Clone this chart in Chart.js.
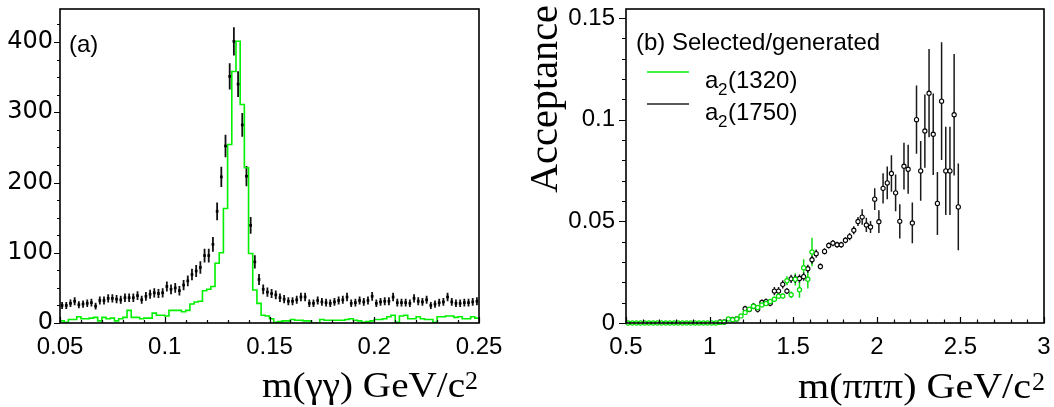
<!DOCTYPE html>
<html>
<head>
<meta charset="utf-8">
<script src="https://cdn.jsdelivr.net/npm/chart.js@4.4.1/dist/chart.umd.min.js"></script>
<style>
  html, body { margin: 0; padding: 0; background: #fff; }
  #wrap { position: relative; width: 1054px; height: 407px; overflow: hidden; }
  #ggChart { position: absolute; left: 0; top: 0; }
  #pi3Chart { position: absolute; left: 520px; top: 0; }
</style>
</head>
<body>
<div id="wrap">
  <canvas id="ggChart" width="520" height="407"></canvas>
  <canvas id="pi3Chart" width="534" height="407"></canvas>
</div>
<script>
// ---------- (a) two-photon invariant mass ----------
const GG_LO = 0.05, GG_HI = 0.25, GG_NBINS = 100;
// events per bin, data
const ggData = [
  25, 25, 28, 31, 26, 27, 28, 29, 24, 32,
  32, 35, 35, 34, 33, 36, 36, 36, 39, 33,
  38, 41, 43, 42, 43, 52, 48, 50, 46, 54,
  60, 69, 74, 79, 96, 96, 112, 159, 208, 252,
  351, 401, 340, 282, 209, 139, 87, 62, 48, 44,
  42, 40, 36, 34, 31, 31, 33, 37, 37, 28,
  28, 32, 30, 29, 28, 30, 32, 33, 37, 28,
  29, 32, 30, 32, 38, 28, 30, 31, 31, 37,
  29, 29, 29, 28, 35, 31, 30, 33, 25, 27,
  29, 30, 37, 30, 28, 28, 29, 29, 30, 31
];
// events per bin, simulation
const ggMC = [
  3, 1, 5, 5, 9, 6, 6, 7, 8, 3,
  8, 6, 7, 3, 6, 8, 18, 8, 8, 6,
  7, 7, 14, 11, 11, 10, 18, 18, 18, 16,
  18, 27, 30, 31, 46, 48, 52, 85, 100, 163,
  254, 358, 401, 311, 221, 99, 47, 28, 11, 10,
  6, 1, 2, 3, 3, 5, 4, 4, 3, 3,
  0, 0, 5, 4, 4, 4, 4, 4, 5, 6,
  4, 3, 1, 2, 3, 5, 5, 6, 9, 11,
  1, 10, 11, 6, 6, 9, 6, 5, 5, 1,
  9, 9, 10, 10, 8, 9, 6, 6, 9, 7
];
const ggXTicks = [0.05, 0.1, 0.15, 0.2, 0.25];
const ggYTicks = [0, 100, 200, 300, 400];

// ---------- (b) three-pion acceptance ----------
const PI3_LO = 0.5, PI3_BIN = 0.025;
const a2_1320_firstBin = 0;
const a2_1320_acc = [
  0, 0, 0, 0, 0, 0, 0, 0, 0, 0, 0, 0, 0, 0, 0, 0, 0, 0, 0, 0, 0, 0,
  0.0003, 0.0004, 0.002, 0.0016, 0.002, 0.0035, 0.0052, 0.0068, 0.0082, 0.0076,
  0.0089, 0.0096, 0.0106, 0.0117, 0.0132, 0.0133, 0.0208, 0.0139, 0.0215, 0.0164,
  0.0272, 0.0215, 0.0349
];
const a2_1320_err = [
  0, 0, 0, 0, 0, 0, 0, 0, 0, 0, 0, 0, 0, 0, 0, 0, 0, 0, 0, 0, 0, 0,
  0.0003, 0.0003, 0.0006, 0.0006, 0.0006, 0.0008, 0.0009, 0.001, 0.001, 0.001,
  0.0011, 0.0011, 0.0012, 0.0012, 0.0013, 0.0013, 0.0022, 0.0016, 0.003, 0.004,
  0.0042, 0.0045, 0.007
];
const a2_1750_firstBin = 22;
const a2_1750_acc = [
  0.0005, 0.0005, null, 0.0018, 0.002, null, 0.007, 0.0066, 0.0083, 0.0067,
  0.0101, 0.0105, 0.0097, 0.0157, 0.0157, 0.019, 0.0157, 0.0217, 0.0217, 0.0219,
  0.0228, 0.0267, 0.0311, 0.0341, 0.0278, 0.0352, 0.0381, 0.0393, 0.0385, 0.0385,
  0.0407, 0.0425, 0.0456, 0.0499, 0.0521, 0.0482, 0.0472, 0.0609, 0.0498, 0.0662,
  0.0689, 0.0735, 0.064, 0.05, 0.0771, 0.0756, 0.0492, 0.1, 0.0748, 0.0944,
  0.113, 0.0928, 0.0588, 0.1091, 0.0748, 0.0748, 0.1024, 0.0571
];
const a2_1750_err = [
  0.0004, 0.0004, null, 0.0008, 0.0008, null, 0.0015, 0.0012, 0.0015, 0.0015,
  0.0015, 0.0015, 0.0015, 0.002, 0.002, 0.002, 0.0015, 0.002, 0.002, 0.002,
  0.002, 0.002, 0.002, 0.002, 0.0015, 0.0015, 0.0015, 0.0015, 0.0015, 0.0015,
  0.0015, 0.0018, 0.002, 0.0022, 0.0038, 0.0035, 0.003, 0.0053, 0.0056, 0.0074,
  0.008, 0.009, 0.009, 0.0084, 0.0115, 0.0121, 0.01, 0.0168, 0.0147, 0.018,
  0.0217, 0.02, 0.0155, 0.029, 0.0217, 0.0217, 0.0299, 0.0213
];
const pi3XTicks = [0.5, 1, 1.5, 2, 2.5, 3];
const pi3YTicks = [0, 0.05, 0.1, 0.15];

// ---------- helpers ----------
const fmt = v => String(Math.round(v * 1e6) / 1e6);
function steps(lo, hi, step) {
  const out = [];
  const n = Math.round((hi - lo) / step);
  for (let i = 0; i <= n; i++) out.push(lo + i * step);
  return out;
}
const SANS = "'Liberation Sans', Arial, sans-serif";
const WIDE_SANS = "'DejaVu Sans', sans-serif";
const SERIF = "'Liberation Serif', 'Times New Roman', serif";

// vertical error bars, drawn under the markers
const errorBars = {
  id: 'errorBars',
  beforeDatasetsDraw(chart) {
    const { ctx, chartArea: a, scales: { x, y } } = chart;
    ctx.save();
    ctx.beginPath();
    ctx.rect(a.left, a.top - 2, a.right - a.left, a.bottom - a.top + 4);
    ctx.clip();
    chart.data.datasets.forEach(ds => {
      if (!ds.errors) return;
      ctx.strokeStyle = ds.errorColor;
      ctx.lineWidth = ds.errorWidth;
      ctx.beginPath();
      ds.data.forEach((p, i) => {
        const e = ds.errors[i];
        if (p.y == null || !e) return;
        const px = x.getPixelForValue(p.x);
        ctx.moveTo(px, y.getPixelForValue(p.y - e));
        ctx.lineTo(px, y.getPixelForValue(p.y + e));
      });
      ctx.stroke();
    });
    ctx.restore();
  }
};

// frame, tick marks and free text
const frameTicks = {
  id: 'frameTicks',
  afterDraw(chart, args, o) {
    const { ctx, chartArea: a, scales: { x, y } } = chart;
    ctx.save();
    ctx.strokeStyle = '#000';
    ctx.lineWidth = 1.2;
    ctx.beginPath();
    o.xMinor.forEach(v => { const p = Math.round(x.getPixelForValue(v)) + 0.5; ctx.moveTo(p, a.bottom); ctx.lineTo(p, a.bottom - o.xMinorLen); });
    o.xMajor.forEach(v => { const p = Math.round(x.getPixelForValue(v)) + 0.5; ctx.moveTo(p, a.bottom); ctx.lineTo(p, a.bottom - o.xMajorLen); });
    o.yMinor.forEach(v => { const p = Math.round(y.getPixelForValue(v)) + 0.5; ctx.moveTo(a.left, p); ctx.lineTo(a.left - o.yMinorLen, p); });
    o.yMajor.forEach(v => { const p = Math.round(y.getPixelForValue(v)) + 0.5; ctx.moveTo(a.left, p); ctx.lineTo(a.left - o.yMajorLen, p); });
    ctx.stroke();
    ctx.lineWidth = 1.6;
    ctx.strokeRect(a.left, a.top, a.right - a.left, a.bottom - a.top);
    ctx.restore();
    if (o.draw) o.draw(ctx, chart);
  }
};

// text stretched horizontally to span a given width
function stretchedText(ctx, text, font, x, yBase, width) {
  ctx.save();
  ctx.font = font;
  const w = ctx.measureText(text).width;
  ctx.translate(x, yBase);
  ctx.scale(width / w, 1);
  ctx.textBaseline = 'alphabetic';
  ctx.textAlign = 'left';
  ctx.fillStyle = '#000';
  ctx.fillText(text, 0, 0);
  ctx.restore();
}

function axisOptions(xTicks, yTicks, xMin, xMax, yMin, yMax, yAxisWidth, yPad, yFont) {
  return {
    x: {
      type: 'linear', min: xMin, max: xMax,
      grid: { display: false, drawTicks: false }, border: { display: false },
      afterBuildTicks: s => { s.ticks = xTicks.map(v => ({ value: v })); },
      afterFit: s => { s.height = 84; s.paddingLeft = 0; s.paddingRight = 0; },
      ticks: { autoSkip: false, maxRotation: 0, padding: 10, color: '#000',
               font: { family: SANS, size: 24 }, callback: v => fmt(v) }
    },
    y: {
      type: 'linear', min: yMin, max: yMax,
      grid: { display: false, drawTicks: false }, border: { display: false },
      afterBuildTicks: s => { s.ticks = yTicks.map(v => ({ value: v })); },
      afterFit: s => { s.width = yAxisWidth; s.paddingTop = 0; s.paddingBottom = 0; },
      ticks: { autoSkip: false, padding: yPad, color: '#000',
               font: { family: yFont, size: 24 }, callback: v => fmt(v) }
    }
  };
}

// ---------- chart (a) ----------
const ggW = (GG_HI - GG_LO) / GG_NBINS;
const ggPoints = ggData.map((v, i) => ({ x: GG_LO + (i + 0.5) * ggW, y: v }));
const ggHist = ggMC.map((v, i) => ({ x: GG_LO + i * ggW, y: v }));
ggHist.push({ x: GG_HI, y: ggMC[ggMC.length - 1] });

new Chart(document.getElementById('ggChart'), {
  type: 'scatter',
  data: {
    datasets: [
      {
        label: 'data', data: ggPoints,
        errors: ggData.map(v => Math.sqrt(v)), errorColor: '#111', errorWidth: 1.8,
        pointStyle: 'rect', pointRadius: 1.9, pointBackgroundColor: '#000',
        pointBorderColor: '#000', pointBorderWidth: 0, showLine: false
      },
      {
        type: 'line', label: 'MC', data: ggHist, stepped: true,
        borderColor: '#00f000', borderWidth: 1.6, pointRadius: 0, fill: false
      }
    ]
  },
  options: {
    responsive: false, animation: false, devicePixelRatio: 1,
    layout: { padding: { top: 9, right: 41, left: 0, bottom: 0 } },
    plugins: {
      legend: { display: false }, tooltip: { enabled: false },
      frameTicks: {
        xMajor: steps(0.05, 0.25, 0.05), xMinor: steps(0.05, 0.25, 0.01), xMajorLen: 6, xMinorLen: 3,
        yMajor: steps(0, 400, 100), yMinor: steps(0, 425, 25), yMajorLen: 6, yMinorLen: 3,
        draw(ctx) {
          ctx.save();
          ctx.fillStyle = '#000';
          ctx.font = `24px ${SANS}`;
          ctx.fillText('(a)', 69, 52);
          ctx.restore();
          stretchedText(ctx, 'm(\u03b3\u03b3) GeV/c', `35px ${SERIF}`, 262, 397, 203);
          stretchedText(ctx, '2', `25px ${SERIF}`, 465, 389, 13);
        }
      }
    },
    scales: axisOptions(ggXTicks, ggYTicks, GG_LO, GG_HI, 0, 447, 60, 7, WIDE_SANS)
  },
  plugins: [errorBars, frameTicks]
});

// ---------- chart (b) ----------
const binCenter = k => PI3_LO + (k + 0.5) * PI3_BIN;
const a2_1320_pts = a2_1320_acc.map((v, i) => ({ x: binCenter(a2_1320_firstBin + i), y: v }));
const a2_1750_pts = a2_1750_acc.map((v, i) => ({ x: binCenter(a2_1750_firstBin + i), y: v }));

new Chart(document.getElementById('pi3Chart'), {
  type: 'scatter',
  data: {
    datasets: [
      {
        label: 'a2(1320)', data: a2_1320_pts,
        errors: a2_1320_err, errorColor: '#10e010', errorWidth: 1.5,
        pointStyle: 'circle', pointRadius: 2.1, pointBorderWidth: 1.2,
        pointBorderColor: '#00e000', pointBackgroundColor: '#fff', clip: 4
      },
      {
        label: 'a2(1750)', data: a2_1750_pts,
        errors: a2_1750_err, errorColor: '#1a1a1a', errorWidth: 1.5,
        pointStyle: 'circle', pointRadius: 2.1, pointBorderWidth: 1.1,
        pointBorderColor: '#000', pointBackgroundColor: '#fff', clip: 4
      }
    ]
  },
  options: {
    responsive: false, animation: false, devicePixelRatio: 1,
    layout: { padding: { top: 9, right: 10, left: 0, bottom: 0 } },
    plugins: {
      legend: { display: false }, tooltip: { enabled: false },
      frameTicks: {
        xMajor: steps(0.5, 3, 0.5), xMinor: steps(0.5, 3, 0.1), xMajorLen: 6, xMinorLen: 3.5,
        yMajor: steps(0, 0.15, 0.05), yMinor: steps(0, 0.15, 0.01), yMajorLen: 7, yMinorLen: 4,
        draw(ctx) {
          ctx.save();
          ctx.fillStyle = '#000';
          ctx.font = `24px ${SANS}`;
          ctx.fillText('(b) Selected/generated', 116, 50);
          // legend entries
          ctx.lineWidth = 1.5;
          ctx.strokeStyle = '#00f000';
          ctx.beginPath(); ctx.moveTo(127, 72); ctx.lineTo(169, 72); ctx.stroke();
          ctx.strokeStyle = '#222';
          ctx.beginPath(); ctx.moveTo(127, 104); ctx.lineTo(169, 104); ctx.stroke();
          [['(1320)', 88], ['(1750)', 120]].forEach(([t, yb]) => {
            ctx.font = `24px ${SANS}`;
            ctx.fillText('a', 185, yb);
            ctx.font = `17px ${SANS}`;
            ctx.fillText('2', 198, yb + 7);
            ctx.font = `24px ${SANS}`;
            ctx.fillText(t, 208, yb);
          });
          ctx.restore();
          // vertical axis title
          ctx.save();
          ctx.translate(37, 193);
          ctx.rotate(-Math.PI / 2);
          ctx.font = `40px ${SERIF}`;
          const w = ctx.measureText('Acceptance').width;
          ctx.scale(188 / w, 1);
          ctx.fillStyle = '#000';
          ctx.fillText('Acceptance', 0, 0);
          ctx.restore();
          stretchedText(ctx, 'm(\u03c0\u03c0\u03c0) GeV/c', `35px ${SERIF}`, 278, 398, 233);
          stretchedText(ctx, '2', `25px ${SERIF}`, 512, 390, 13);
        }
      }
    },
    scales: axisOptions(pi3XTicks, pi3YTicks, 0.5, 3, 0, 0.1544, 106, 11, SANS)
  },
  plugins: [errorBars, frameTicks]
});
</script>
</body>
</html>
